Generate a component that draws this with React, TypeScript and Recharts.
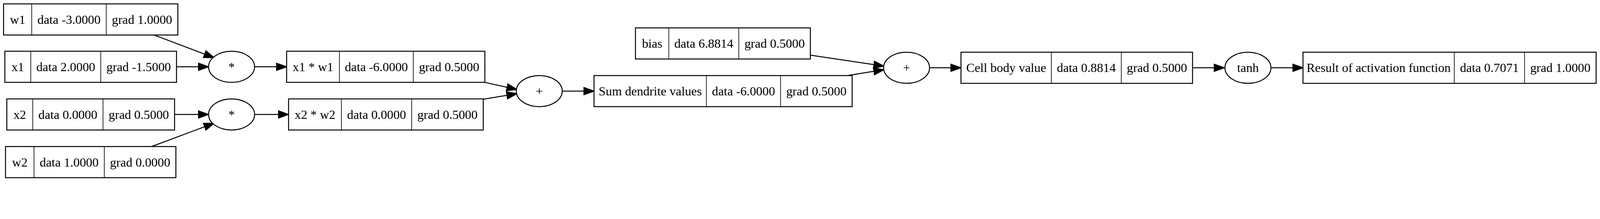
import { ScatterChart, Scatter, XAxis, YAxis, ReferenceLine } from "recharts";

const W = 4940;
const H = 560;
const FONT = "'Liberation Serif', 'Times New Roman', serif";

// value nodes
const valueLabels = ["w1", "x1", "x2", "w2", "x1 * w1", "x2 * w2", "Sum dendrite values", "bias", "Cell body value", "Result of activation function"];
const valueData = ["-3.0000", "2.0000", "0.0000", "1.0000", "-6.0000", "0.0000", "-6.0000", "6.8814", "0.8814", "0.7071"];
const valueGrad = ["1.0000", "-1.5000", "0.5000", "0.0000", "0.5000", "0.5000", "0.5000", "0.5000", "0.5000", "1.0000"];

// graph layout (left edge, centre y, cell widths)
const valueLeft = [11, 15, 21, 17, 885, 891, 1834, 1962, 2967, 4023];
const valueMidY = [60, 206, 353, 500, 206, 353, 281, 134, 209, 209];
const cellA = [87, 80, 80, 88, 163, 163, 347, 103, 279, 467];
const cellB = [230, 216, 217, 217, 228, 217, 229, 216, 216, 217];
const cellC = [221, 234, 221, 221, 221, 221, 221, 221, 220, 221];

// operation nodes
const opLabels = ["*", "*", "+", "+", "tanh"];
const opX = [715, 715, 1665, 2799, 3853];
const opY = [206, 353, 281, 209, 209];

// edges: [x1, y1, x2, y2] in graph coordinates
const edgeList: [number, number, number, number][] = [
  [476, 108, 661, 178],
  [545, 206, 644, 206],
  [787, 206, 885, 206],
  [539, 353, 644, 353],
  [468, 452, 661, 380],
  [787, 353, 891, 353],
  [1497, 254, 1596, 276],
  [1492, 306, 1596, 289],
  [1736, 281, 1834, 281],
  [2502, 170, 2729, 204],
  [2616, 233, 2729, 215],
  [2869, 209, 2967, 209],
  [3682, 209, 3780, 209],
  [3925, 209, 4023, 209],
];

const BOX_H = 96;

if (typeof document !== "undefined") {
  document.body.style.margin = "0";
  document.body.style.overflow = "hidden";
}

const valueNodes = valueLabels.map((label, i) => ({
  x: valueLeft[i], y: valueMidY[i], label, data: valueData[i], grad: valueGrad[i],
  a: cellA[i], b: cellB[i], c: cellC[i],
}));
const opNodes = opLabels.map((op, i) => ({ x: opX[i], y: opY[i], op }));

const txt = { fontFamily: FONT, fontSize: 39, fill: "#000", textAnchor: "middle" as const, dominantBaseline: "central" as const };

function ValueBox(p: any) {
  const { cx, cy, payload } = p;
  const top = cy - BOX_H / 2;
  const total = payload.a + payload.b + payload.c;
  const x2 = cx + payload.a;
  const x3 = x2 + payload.b;
  return (
    <g>
      <rect x={cx} y={top} width={total} height={BOX_H} fill="#fff" stroke="#000" strokeWidth={3} />
      <line x1={x2} y1={top} x2={x2} y2={top + BOX_H} stroke="#000" strokeWidth={2} />
      <line x1={x3} y1={top} x2={x3} y2={top + BOX_H} stroke="#000" strokeWidth={2} />
      <text x={cx + payload.a / 2} y={cy} {...txt}>{payload.label}</text>
      <text x={x2 + payload.b / 2} y={cy} {...txt}>{`data ${payload.data}`}</text>
      <text x={x3 + payload.c / 2} y={cy} {...txt}>{`grad ${payload.grad}`}</text>
    </g>
  );
}

function OpNode(p: any) {
  const { cx, cy, payload } = p;
  return (
    <g>
      <ellipse cx={cx} cy={cy} rx={71} ry={48} fill="#fff" stroke="#000" strokeWidth={3} />
      <text x={cx} y={cy} {...txt}>{payload.op}</text>
    </g>
  );
}

function Arrow(p: any) {
  const { x1, y1, x2, y2 } = p;
  if ([x1, y1, x2, y2].some((v) => v == null || isNaN(v))) return <g />;
  const dx = x2 - x1, dy = y2 - y1;
  const len = Math.hypot(dx, dy);
  const ux = dx / len, uy = dy / len;
  const bx = x2 - ux * 31, by = y2 - uy * 31;
  const px = -uy * 11, py = ux * 11;
  return (
    <g>
      <line x1={x1} y1={y1} x2={bx} y2={by} stroke="#000" strokeWidth={3} />
      <polygon points={`${x2},${y2} ${bx + px},${by + py} ${bx - px},${by - py}`} fill="#000" stroke="#000" strokeWidth={3} />
    </g>
  );
}

export default function App() {
  const vw = typeof window !== "undefined" ? window.innerWidth : W;
  const vh = typeof window !== "undefined" ? window.innerHeight : H;
  const k = Math.min(1, vw / W, vh / H);
  return (
    <div style={{ position: "absolute", left: 0, top: 0, background: "#fff", transform: `scale(${k})`, transformOrigin: "0 0" }}>
      <ScatterChart width={W} height={H} margin={{ top: 0, right: 0, bottom: 0, left: 0 }}>
        <XAxis type="number" dataKey="x" domain={[0, W]} hide allowDataOverflow />
        <YAxis type="number" dataKey="y" domain={[0, H]} reversed hide allowDataOverflow />
        {edgeList.map(([ax, ay, bx, by], i) => (
          <ReferenceLine key={i} segment={[{ x: ax, y: ay }, { x: bx, y: by }]} ifOverflow="visible" shape={Arrow} />
        ))}
        <Scatter data={valueNodes} shape={ValueBox} isAnimationActive={false} />
        <Scatter data={opNodes} shape={OpNode} isAnimationActive={false} />
      </ScatterChart>
    </div>
  );
}
